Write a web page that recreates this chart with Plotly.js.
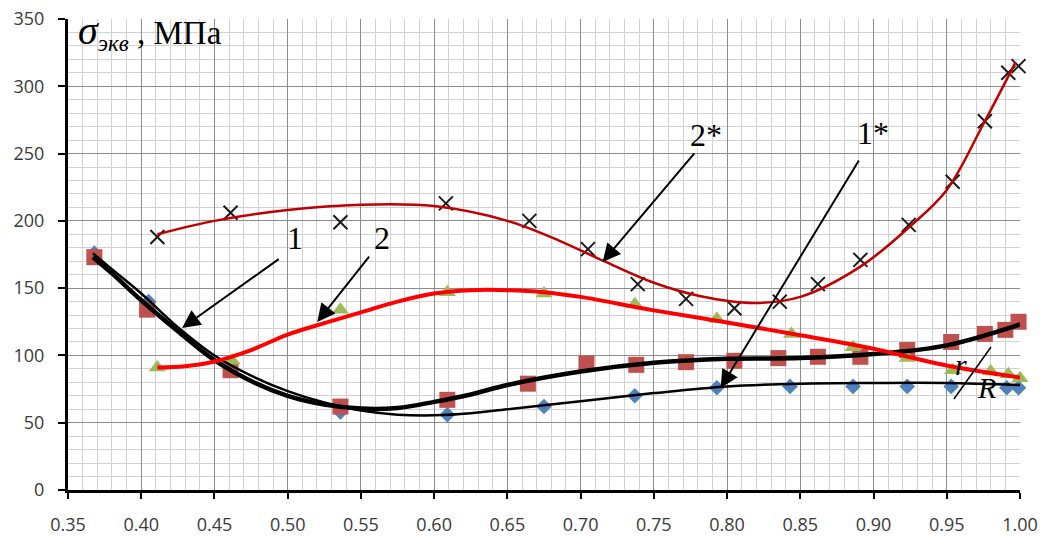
<!DOCTYPE html>
<html>
<head>
<meta charset="utf-8">
<script src="https://cdn.plot.ly/plotly-3.0.1.min.js"></script>
<style>html,body{margin:0;padding:0;background:#fff;}#chart{width:1043px;height:536px;}</style>
</head>
<body>
<div id="chart"></div>
<script>
// ---- data ----
// markers: series 1 (blue diamonds)
const xDiamond = [0.368, 0.405, 0.536, 0.609, 0.675, 0.737, 0.793, 0.843, 0.886, 0.923, 0.953, 0.991, 0.999];
const yDiamond = [176, 140, 58, 56, 62, 70, 76, 77, 77, 77, 77, 76, 76];
// markers: series 1* (red squares)
const xSquare = [0.368, 0.404, 0.461, 0.536, 0.609, 0.664, 0.704, 0.738, 0.772, 0.805, 0.835, 0.862, 0.891, 0.923, 0.953, 0.976, 0.990, 0.999];
const ySquare = [173, 134, 89, 62, 67, 79, 94, 93, 95, 96, 98, 99, 99, 104, 110, 116, 119, 125];
// markers: series 2 (green triangles)
const xTriangle = [0.411, 0.462, 0.536, 0.609, 0.675, 0.737, 0.793, 0.844, 0.886, 0.923, 0.954, 0.980, 0.992, 1.000];
const yTriangle = [91, 96, 134, 147, 146, 138, 127, 116, 106, 98, 89, 88, 86, 83];
// markers: series 2* (black crosses)
const xCross = [0.411, 0.461, 0.536, 0.608, 0.665, 0.705, 0.739, 0.772, 0.805, 0.836, 0.862, 0.891, 0.924, 0.954, 0.976, 0.992, 0.999];
const yCross = [188, 206, 199, 213, 200, 179, 153, 142, 135, 140, 153, 171, 197, 229, 274, 310, 315];

// smoothed curves
const xCurve1 = [0.367, 0.38, 0.40, 0.425, 0.45, 0.475, 0.50, 0.525, 0.55, 0.575, 0.60, 0.625, 0.65, 0.70, 0.75, 0.80, 0.85, 0.90, 0.95, 1.00];
const yCurve1 = [176, 164, 146, 121, 100, 85, 73.5, 65, 59, 56, 55.5, 57, 60, 66, 72, 77, 79, 79.5, 79.5, 78];
const xCurve1s = [0.367, 0.38, 0.40, 0.425, 0.45, 0.475, 0.50, 0.525, 0.55, 0.575, 0.60, 0.625, 0.65, 0.70, 0.75, 0.80, 0.85, 0.90, 0.95, 1.00];
const yCurve1s = [173, 161, 141, 118, 96.5, 81, 70, 63.5, 60.5, 61, 65.5, 71, 78, 88, 94.5, 97.5, 98, 101, 107.5, 123];
const xCurve2 = [0.411, 0.43, 0.45, 0.475, 0.50, 0.525, 0.55, 0.575, 0.60, 0.625, 0.65, 0.675, 0.70, 0.75, 0.80, 0.85, 0.90, 0.95, 1.00];
const yCurve2 = [91, 92, 95.5, 104, 115.5, 124, 132, 140, 146, 148.5, 148.5, 147, 143.5, 133.5, 124.5, 115, 105, 92.5, 83.5];
const xCurve2s = [0.411, 0.45, 0.50, 0.55, 0.60, 0.65, 0.686, 0.716, 0.75, 0.782, 0.818, 0.85, 0.891, 0.924, 0.95, 0.975, 0.997];
const yCurve2s = [190, 200, 208, 212, 211, 200, 185, 170, 154, 144, 139, 143.5, 166, 195, 223, 272, 318];

const xTickVals = [0.35, 0.40, 0.45, 0.50, 0.55, 0.60, 0.65, 0.70, 0.75, 0.80, 0.85, 0.90, 0.95, 1.00];
const yTickVals = [0, 50, 100, 150, 200, 250, 300, 350];

const markerTraces = [
  {x: xDiamond, y: yDiamond, mode: 'markers', type: 'scatter', cliponaxis: false,
   marker: {symbol: 'diamond', size: 12, color: '#4f81bd'}},
  {x: xSquare, y: ySquare, mode: 'markers', type: 'scatter', cliponaxis: false,
   marker: {symbol: 'square', size: 16, color: '#c0504d'}},
  {x: xTriangle, y: yTriangle, mode: 'markers', type: 'scatter', cliponaxis: false,
   marker: {symbol: 'triangle-up', size: 15, color: '#9bbb59'}},
  {x: xCross, y: yCross, mode: 'markers', type: 'scatter', cliponaxis: false,
   marker: {symbol: 'x-thin-open', size: 14, color: '#1a1a1a', line: {width: 2, color: '#1a1a1a'}}}
];
const lineTraces = [
  {x: xCurve1s, y: yCurve1s, mode: 'lines', type: 'scatter', line: {shape: 'spline', smoothing: 1, color: '#000', width: 4.5}},
  {x: xCurve1, y: yCurve1, mode: 'lines', type: 'scatter', line: {shape: 'spline', smoothing: 1, color: '#000', width: 2.5}},
  {x: xCurve2, y: yCurve2, mode: 'lines', type: 'scatter', line: {shape: 'spline', smoothing: 1, color: '#ff0000', width: 4}},
  {x: xCurve2s, y: yCurve2s, mode: 'lines', type: 'scatter', line: {shape: 'spline', smoothing: 1, color: '#c00000', width: 2.5}}
];

const serif = 'Liberation Serif, Times New Roman, serif';
function arrow(tx, ty, hx, hy) {
  return {x: hx, y: hy, ax: tx, ay: ty, xref: 'x', yref: 'y', axref: 'x', ayref: 'y',
          text: '', showarrow: true, arrowhead: 2, arrowsize: 1.8, arrowwidth: 2, arrowcolor: '#000'};
}
function label(t, x, y, size, italic) {
  return {x: x, y: y, xref: 'x', yref: 'y', text: italic ? '<i>' + t + '</i>' : t, showarrow: false,
          xanchor: 'center', yanchor: 'middle', font: {family: serif, size: size, color: '#000'}};
}

const layout = {
  width: 1043, height: 536,
  margin: {l: 68, r: 23, t: 19, b: 46, pad: 0},
  paper_bgcolor: '#fff', plot_bgcolor: '#fff',
  showlegend: false,
  font: {family: 'Open Sans, sans-serif', size: 18, color: '#3a3a3a'},
  xaxis: {
    range: [0.35, 1.00], tickvals: xTickVals, tickformat: '.2f',
    showline: true, linecolor: '#000', linewidth: 3,
    ticks: 'outside', ticklen: 6, tickwidth: 2, tickcolor: '#000', ticklabelstandoff: 10,
    showgrid: true, gridcolor: '#8c8c8c', gridwidth: 1, zeroline: false,
    minor: {dtick: 0.01, tick0: 0.35, showgrid: true, gridcolor: '#d2d2d2', gridwidth: 1, ticks: ''}
  },
  yaxis: {
    range: [0, 350], tickvals: yTickVals,
    showline: true, linecolor: '#000', linewidth: 3,
    ticks: 'outside', ticklen: 7, tickwidth: 2, tickcolor: '#000', ticklabelstandoff: 10,
    showgrid: true, gridcolor: '#8c8c8c', gridwidth: 1, zeroline: false,
    minor: {dtick: 10, tick0: 0, showgrid: true, gridcolor: '#d2d2d2', gridwidth: 1, ticks: ''}
  },
  annotations: [
    {xref: 'paper', yref: 'paper', x: 0.008, y: 0.972, xanchor: 'left', yanchor: 'middle', showarrow: false,
     text: '<span style="font-size:40px"><i>σ</i></span><sub><i>экв</i></sub> , МПа', font: {family: serif, size: 33, color: '#000'}},
    arrow(0.4949, 172.4, 0.4279, 120.4),
    arrow(0.5564, 174.6, 0.5202, 124.8),
    arrow(0.7785, 251.2, 0.7150, 169.4),
    arrow(0.8906, 246.0, 0.7956, 75.8),
    label('1', 0.5052, 187.3, 32, false),
    label('2', 0.5646, 187.3, 32, false),
    label('2*', 0.7854, 263.8, 32, false),
    label('1*', 0.8996, 265.3, 32, false),
    label('r', 0.9597, 93, 30, true),
    label('R', 0.9774, 76, 30, true)
  ],
  shapes: [
    {type: 'line', xref: 'x', yref: 'y', x0: 0.9802, y0: 106.3, x1: 0.9549, y1: 67.6, line: {color: '#000', width: 1.5}}
  ]
};

Plotly.newPlot('chart', markerTraces.concat(lineTraces), layout, {displayModeBar: false, staticPlot: true});
</script>
</body>
</html>
